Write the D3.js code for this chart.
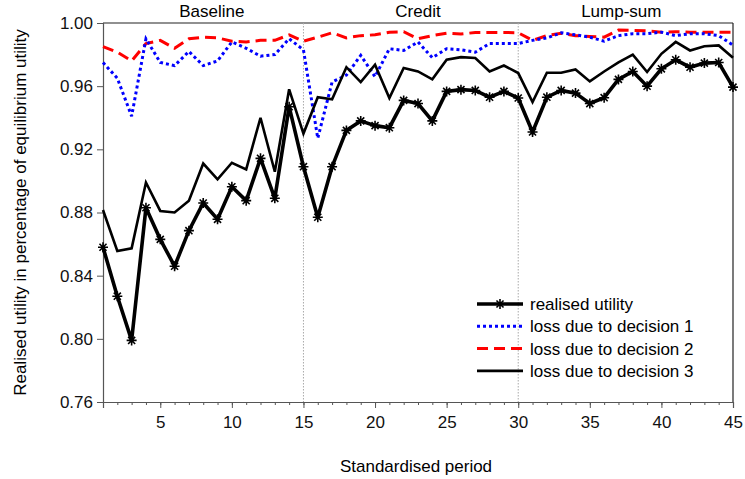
<!DOCTYPE html>
<html><head><meta charset="utf-8">
<script src="https://cdn.jsdelivr.net/npm/d3@7"></script>
<style>body{margin:0;background:#fff}svg{display:block;font-family:"Liberation Sans",Arial,sans-serif}</style>
</head><body><svg id="c" width="745" height="479"></svg>
<script>
const periods = d3.range(1, 46);
const realised = [0.858,0.827,0.799,0.883,0.863,0.846,0.8685,0.886,0.8757,0.8963,0.8875,0.9143,0.889,0.947,0.909,
  0.877,0.909,0.932,0.938,0.935,0.9337,0.951,0.949,0.938,0.9567,0.9578,0.9573,0.953,0.9567,0.9525,
  0.931,0.953,0.9573,0.9556,0.949,0.9527,0.9643,0.9693,0.960,0.971,0.9767,0.972,0.9746,0.975,0.9594];
const decision1 = [0.975,0.965,0.941,0.990,0.975,0.973,0.982,0.973,0.976,0.988,0.984,0.979,0.980,0.990,0.983,
  0.927,0.9626,0.967,0.9795,0.966,0.9837,0.9826,0.988,0.978,0.9837,0.983,0.9815,0.987,0.987,0.987,
  0.989,0.9906,0.9938,0.9925,0.991,0.9885,0.992,0.9932,0.9932,0.9942,0.992,0.9932,0.9932,0.992,0.986];
const decision2 = [0.985,0.9815,0.976,0.987,0.989,0.984,0.990,0.991,0.9906,0.9885,0.988,0.989,0.989,0.9925,0.9885,
  0.991,0.9938,0.9906,0.992,0.9925,0.9942,0.9945,0.990,0.992,0.9935,0.993,0.994,0.994,0.994,0.9938,
  0.989,0.992,0.9935,0.992,0.9915,0.991,0.9955,0.9953,0.995,0.9942,0.9945,0.9942,0.9942,0.9942,0.9942];
const decision3 = [0.8816,0.8556,0.8573,0.899,0.881,0.880,0.8875,0.911,0.901,0.9115,0.9073,0.940,0.9058,0.958,0.930,
  0.953,0.9517,0.972,0.9626,0.9736,0.9525,0.9715,0.9693,0.9643,0.9767,0.9784,0.9778,0.9693,0.9731,0.9683,
  0.950,0.9685,0.9685,0.9706,0.963,0.9693,0.975,0.980,0.969,0.9805,0.988,0.9826,0.9853,0.9858,0.978];
const xTicks = [5,10,15,20,25,30,35,40,45];
const yTicks = [0.76,0.80,0.84,0.88,0.92,0.96,1.00];
const regimes = ["Baseline","Credit","Lump-sum"];
const regimePos = [8.6,23,37.2];
const dividers = [15,30];
const legendLabels = ["realised utility","loss due to decision 1","loss due to decision 2","loss due to decision 3"];

const svg = d3.select("#c");
const L=103, R=733, T=23, B=402;
const x = d3.scaleLinear().domain([1,45]).range([L,R]);
const y = d3.scaleLinear().domain([0.76,1.00]).range([B,T]);

// frame top/right
svg.append("line").attr("x1",L).attr("x2",R).attr("y1",T).attr("y2",T).attr("stroke","#222").attr("stroke-width",1.2);
svg.append("line").attr("x1",R).attr("x2",R).attr("y1",T).attr("y2",B).attr("stroke","#222").attr("stroke-width",1.2);

// dividers
dividers.forEach(d=>svg.append("line").attr("x1",x(d)).attr("x2",x(d)).attr("y1",T).attr("y2",B)
  .attr("stroke","#aaa").attr("stroke-width",1).attr("stroke-dasharray","1.5,1.5"));

// axes
const ax = svg.append("g").attr("transform",`translate(0,${B})`).call(d3.axisBottom(x).tickValues(xTicks).tickSize(6).tickPadding(8).tickFormat(d3.format("d")));
svg.append("g").attr("transform",`translate(0,${B})`).call(d3.axisBottom(x).tickValues(periods).tickSize(3).tickFormat(""))
  .call(g=>g.select(".domain").remove());
const ay = svg.append("g").attr("transform",`translate(${L},0)`).call(d3.axisLeft(y).tickValues(yTicks).tickSize(6).tickPadding(4).tickFormat(d3.format(".2f")));
svg.selectAll(".domain").attr("stroke","#555").attr("stroke-width",1.2);
svg.selectAll(".tick line").attr("stroke","#555");
svg.selectAll(".tick text").attr("font-size",17).attr("fill","#111").attr("font-family","Liberation Sans, Arial, sans-serif");

// titles
svg.append("text").attr("x",(L+R)/2-2).attr("y",472).attr("text-anchor","middle").attr("font-size",17).text("Standardised period");
svg.append("text").attr("transform",`translate(26,${(T+B)/2}) rotate(-90)`).attr("text-anchor","middle").attr("font-size",17).text("Realised utility in percentage of equilibrium utility");
regimes.forEach((r,i)=>svg.append("text").attr("x",x(regimePos[i])).attr("y",17).attr("text-anchor","middle").attr("font-size",17).text(r));

const line = d3.line().x((d,i)=>x(periods[i])).y(d=>y(d));
const g = svg.append("g");
const styles = [
  {data:realised, color:"#000", w:3.6, dash:null},
  {data:decision1, color:"#0000ff", w:3, dash:"3,3"},
  {data:decision2, color:"#ff0000", w:3, dash:"11,6"},
  {data:decision3, color:"#000", w:2.6, dash:null}
];
[2,1,3,0].forEach(k=>{
  const s=styles[k];
  g.append("path").datum(s.data).attr("d",line).attr("fill","none").attr("stroke",s.color)
   .attr("stroke-width",s.w).attr("stroke-dasharray",s.dash).attr("stroke-linejoin","miter").attr("stroke-miterlimit",3);
});
function star(sel,cx,cy,r){
  const p=[];
  for(let a=0;a<4;a++){const t=a*Math.PI/4;p.push(`M${cx-r*Math.cos(t)},${cy-r*Math.sin(t)}L${cx+r*Math.cos(t)},${cy+r*Math.sin(t)}`);}
  sel.append("path").attr("d",p.join("")).attr("stroke","#000").attr("stroke-width",1.6).attr("fill","none");
}
realised.forEach((v,i)=>star(g,x(periods[i]),y(v),5));

// legend
const lg = svg.append("g");
legendLabels.forEach((t,i)=>{
  const yy = 304 + i*22.3;
  const s = styles[i];
  lg.append("line").attr("x1",477).attr("x2",523).attr("y1",yy).attr("y2",yy).attr("stroke",s.color)
    .attr("stroke-width",s.w).attr("stroke-dasharray",s.dash);
  if(i===0) star(lg,500,yy,5);
  lg.append("text").attr("x",530).attr("y",yy+6).attr("font-size",17).text(t);
});
</script></body></html>
